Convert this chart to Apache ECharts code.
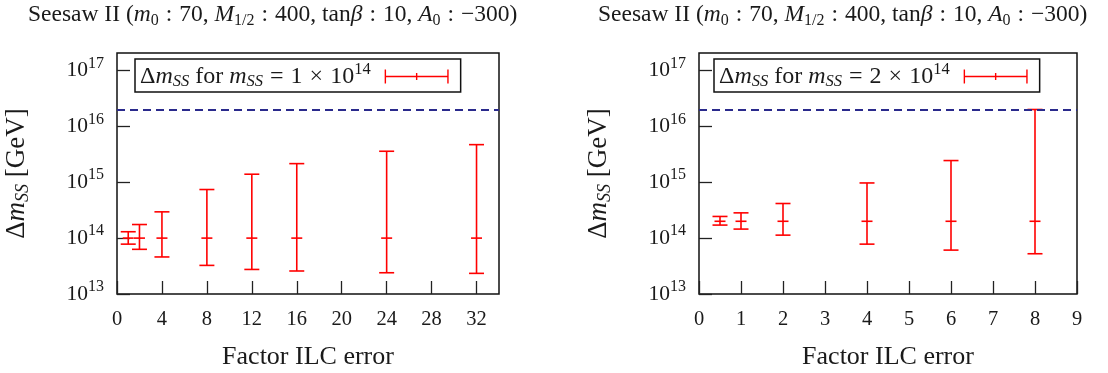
<!DOCTYPE html>
<html>
<head>
<meta charset="utf-8">
<script src="https://cdn.jsdelivr.net/npm/echarts@6/dist/echarts.min.js"></script>
<style>
html,body{margin:0;padding:0;background:#fff;}
#chart{width:1108px;height:373px;}
</style>
</head>
<body>
<div id="chart"></div>
<script>
// ---- data ----
const leftX = [1, 2, 4, 8, 12, 16, 24, 32];
const leftCenter = [1e14, 1e14, 1e14, 1e14, 1e14, 1e14, 1e14, 1e14];
const leftLow = [7.8e13, 6.3e13, 4.6e13, 3.25e13, 2.75e13, 2.58e13, 2.4e13, 2.34e13];
const leftHigh = [1.3e14, 1.75e14, 2.95e14, 7.4e14, 1.39e15, 2.15e15, 3.58e15, 4.7e15];

const rightX = [0.5, 1, 2, 4, 6, 8];
const rightCenter = [2e14, 2e14, 2e14, 2e14, 2e14, 2e14];
const rightLow = [1.71e14, 1.45e14, 1.13e14, 7.8e13, 6.1e13, 5.25e13];
const rightHigh = [2.44e14, 2.83e14, 4.16e14, 9.7e14, 2.44e15, 2.0e16];

const gutLimit = 2e16;           // dashed horizontal line
const leftXTicks = {min: 0, max: 34, interval: 4};
const rightXTicks = {min: 0, max: 9, interval: 1};
const yRange = {min: 1e13, max: 2.05e17};

const titleText = 'Seesaw II ({i|m}{sub|0}{c|:}70, {i|M}{sub|1/2}{c|:}400, tan{i|β}{c|:}10, {i|A}{sub|0}{c|:}−300)';
const leftLegendName = 'Δm_SS for m_SS = 1 × 10^14';
const rightLegendName = 'Δm_SS for m_SS = 2 × 10^14';
const xAxisName = 'Factor ILC error';

// ---- styling ----
const FONT = 'Liberation Serif';
const TXT = '#1a1a1a';
const RED = '#ff0000';
const NAVY = '#2a2a8c';

function toRows(xs, c, lo, hi) {
  return xs.map((x, i) => [x, c[i], lo[i], hi[i]]);
}

function renderErr(params, api) {
  const x = api.value(0), c = api.value(1), lo = api.value(2), hi = api.value(3);
  const pc = api.coord([x, c]);
  const pl = api.coord([x, lo]);
  const ph = api.coord([x, hi]);
  const cap = 7.5, mid = 5.5;
  const st = {stroke: RED, lineWidth: 1.6, fill: null};
  return {
    type: 'group',
    children: [
      {type: 'line', shape: {x1: pc[0], y1: pl[1], x2: pc[0], y2: ph[1]}, style: st},
      {type: 'line', shape: {x1: pc[0] - cap, y1: pl[1], x2: pc[0] + cap, y2: pl[1]}, style: st},
      {type: 'line', shape: {x1: pc[0] - cap, y1: ph[1], x2: pc[0] + cap, y2: ph[1]}, style: st},
      {type: 'line', shape: {x1: pc[0] - mid, y1: pc[1], x2: pc[0] + mid, y2: pc[1]}, style: st}
    ]
  };
}

const TF = 23.5;
const richMath = {
  i: {fontFamily: FONT, fontStyle: 'italic', fontSize: TF, color: TXT},
  c: {fontFamily: FONT, fontSize: TF, color: TXT, padding: [0, 7, 0, 7]},
  sub: {fontFamily: FONT, fontSize: 16, color: TXT, padding: [13, 0, 0, 0]}
};

function legendFmt(name) {
  const m = name.match(/= (\d) × 10\^(\d+)/);
  return '{n|Δ}{i|m}{sub|SS} for {i|m}{sub|SS}{op|=}' + m[1] + '{op|×}10{sup|' + m[2] + '}';
}
const LF = 24;
const legendRich = {
  n: {fontFamily: FONT, fontSize: LF, color: TXT},
  i: {fontFamily: FONT, fontStyle: 'italic', fontSize: LF, color: TXT},
  op: {fontFamily: FONT, fontSize: LF, color: TXT, padding: [0, 7, 0, 7]},
  sub: {fontFamily: FONT, fontStyle: 'italic', fontSize: 16.5, color: TXT, padding: [10, 0, 0, 0]},
  sup: {fontFamily: FONT, fontSize: 16.5, color: TXT, padding: [0, 9, 14, 0]}
};

const errIcon = 'path://M0,6.3h64v1.4h-64z M0,0h1.4v14h-1.4z M31.3,3.5h1.4v7h-1.4z M62.6,0h1.4v14h-1.4z';

function yLabelFmt(v) {
  const e = Math.round(Math.log10(v));
  return '{b|10}{s|' + e + '}';
}
const yLabelRich = {
  b: {fontFamily: FONT, fontSize: 21.5, color: TXT},
  s: {fontFamily: FONT, fontSize: 16, color: TXT, padding: [0, 0, 14, 0]}
};

function xAxisCfg(idx, ticks) {
  return {
    type: 'value', gridIndex: idx,
    min: ticks.min, max: ticks.max, interval: ticks.interval,
    name: xAxisName, nameLocation: 'middle', nameGap: 50,
    nameTextStyle: {fontFamily: FONT, fontSize: 26, color: TXT},
    axisLine: {show: false},
    axisTick: {show: true, inside: true, length: 13, lineStyle: {color: '#222', width: 1.3}},
    axisLabel: {margin: 15, fontFamily: FONT, fontSize: 20.5, color: TXT, showMaxLabel: ticks.max % ticks.interval === 0},
    splitLine: {show: false}
  };
}
function yAxisCfg(idx) {
  return {
    type: 'log', logBase: 10, gridIndex: idx,
    min: yRange.min, max: yRange.max,
    name: '{n|Δ}{i|m}{sub|SS} [GeV]', nameLocation: 'middle', nameGap: 85, nameRotate: 90,
    nameTextStyle: {
      fontFamily: FONT, fontSize: 27, color: TXT,
      rich: {
        n: {fontFamily: FONT, fontSize: 27, color: TXT},
        i: {fontFamily: FONT, fontStyle: 'italic', fontSize: 27, color: TXT},
        sub: {fontFamily: FONT, fontStyle: 'italic', fontSize: 18, color: TXT, padding: [12, 0, 0, 0]}
      }
    },
    axisLine: {show: false},
    axisTick: {show: true, inside: true, length: 13, lineStyle: {color: '#222', width: 1.3}},
    axisLabel: {margin: 13, formatter: yLabelFmt, rich: yLabelRich, showMaxLabel: false},
    splitLine: {show: false},
    minorTick: {show: false}
  };
}

function legendCfg(name, left) {
  return {
    data: [name], left: left, top: 59, orient: 'horizontal', align: 'right',
    icon: errIcon, itemWidth: 64, itemHeight: 14, selectedMode: false,
    borderColor: '#111', borderWidth: 1.5, padding: [2, 12, 2, 5], backgroundColor: '#fff',
    formatter: legendFmt, textStyle: {fontFamily: FONT, fontSize: LF, color: TXT, rich: legendRich}
  };
}

function gridCfg(left, width) {
  return {
    left: left, top: 53, width: width, height: 241,
    show: true, borderColor: '#111', borderWidth: 1.5, backgroundColor: 'transparent',
    containLabel: false, outerBoundsMode: 'none'
  };
}

const chart = echarts.init(document.getElementById('chart'), null, {renderer: 'canvas'});
chart.setOption({
  animation: false,
  backgroundColor: '#fff',
  title: [
    {text: titleText, left: 23, top: -5,
     textStyle: {fontFamily: FONT, fontSize: TF, fontWeight: 'normal', color: TXT, rich: richMath}},
    {text: titleText, left: 593, top: -5,
     textStyle: {fontFamily: FONT, fontSize: TF, fontWeight: 'normal', color: TXT, rich: richMath}}
  ],
  grid: [gridCfg(117, 382), gridCfg(699, 378)],
  xAxis: [xAxisCfg(0, leftXTicks), xAxisCfg(1, rightXTicks)],
  yAxis: [yAxisCfg(0), yAxisCfg(1)],
  legend: [legendCfg(leftLegendName, 135), legendCfg(rightLegendName, 714)],
  series: [
    {
      name: leftLegendName, type: 'custom', xAxisIndex: 0, yAxisIndex: 0,
      itemStyle: {color: RED}, renderItem: renderErr,
      encode: {x: 0, y: [1, 2, 3]},
      data: toRows(leftX, leftCenter, leftLow, leftHigh),
      markLine: {silent: true, symbol: 'none', label: {show: false},
        lineStyle: {color: NAVY, type: [8, 5], width: 1.8},
        data: [{yAxis: gutLimit}]},
      z: 3
    },
    {
      name: rightLegendName, type: 'custom', xAxisIndex: 1, yAxisIndex: 1,
      itemStyle: {color: RED}, renderItem: renderErr,
      encode: {x: 0, y: [1, 2, 3]},
      data: toRows(rightX, rightCenter, rightLow, rightHigh),
      markLine: {silent: true, symbol: 'none', label: {show: false},
        lineStyle: {color: NAVY, type: [8, 5], width: 1.8},
        data: [{yAxis: gutLimit}]},
      z: 3
    }
  ]
});
</script>
</body>
</html>
